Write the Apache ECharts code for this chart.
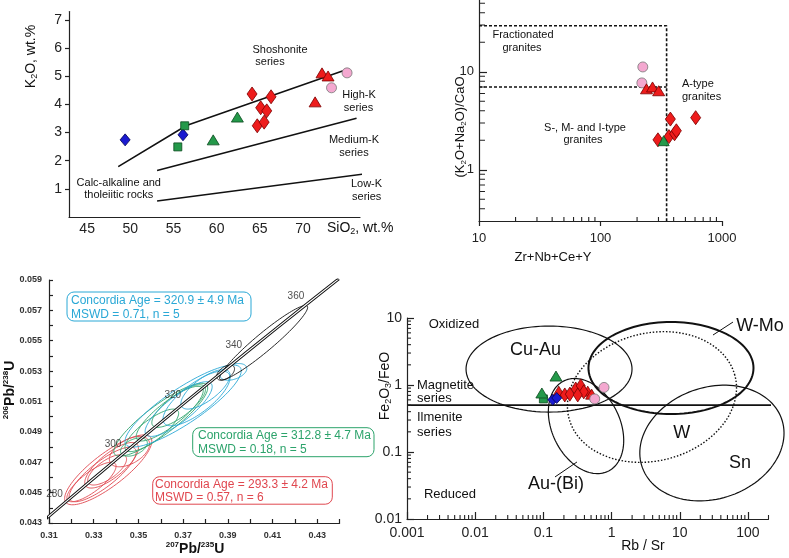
<!DOCTYPE html>
<html><head><meta charset="utf-8">
<script src="https://cdn.jsdelivr.net/npm/echarts@6/dist/echarts.min.js"></script>
<style>html,body{margin:0;padding:0;background:#fff}#c{width:789px;height:558px}</style>
</head><body><div id="c"></div>
<script>
// ===== Panel A: K2O vs SiO2 =====
const aBlueDiamond = [[49.4,2.74],[56.1,2.92]];
const aGreenSquare = [[56.3,3.24],[55.5,2.49]];
const aGreenTriangle = [[59.6,2.74],[62.4,3.55]];
const aRedDiamond = [[64.1,4.37],[65.1,3.88],[65.8,3.77],[66.3,4.27],[64.7,3.24],[65.5,3.37]];
const aRedTriangle = [[72.2,5.12],[72.9,5.01],[71.4,4.09]];
const aPinkCircle = [[75.1,5.12],[73.3,4.59]];
const aLineShoshonite = [[48.6,1.79],[56.5,3.25],[74.9,5.22]];
const aLineHighK = [[53.1,1.65],[76.2,3.51]];
const aLineLowK = [[53.1,0.57],[78.6,1.59]];
const aXTicks = [45,50,55,60,65,70];
const aYTicks = [1,2,3,4,5,6,7];

// ===== Panel B: (K2O+Na2O)/CaO vs Zr+Nb+Ce+Y =====
const bPinkCircle = [[223,11.2],[219,7.7]];
const bRedTriangle = [[239,6.7],[268,7.0],[301,6.4]];
const bRedDiamond = [[376,3.29],[607,3.4],[297,2.02],[366,2.18],[407,2.33],[421,2.5]];
const bGreenTriangle = [[331,1.98]];
const bFGBoxUpper = [[10,29.5],[350,29.5],[350,0.3]];
const bFGBoxLower = [[10,7],[350,7]];
const bXMajor = [10,100,1000];
const bXMinor = [20,30,40,50,60,70,80,90,200,300,400,500,600,700,800,900];
const bYMajor = [1,10];
const bYMinor = [0.4,0.5,0.6,0.7,0.8,0.9,2,3,4,5,6,7,8,9,20,30,40,50];

// ===== Panel C: Concordia =====
const cConcordia = [[0.304622,0.042773],[0.311057,0.043582],[0.317529,0.044392],[0.330569,0.046013],[0.343738,0.047637],[0.357037,0.049264],[0.370468,0.050893],[0.384031,0.052524],[0.397728,0.054158],[0.411563,0.055795],[0.425534,0.057434],[0.439641,0.059075]];
const cAgeLabels = [280,300,320,340,360];
const cAgePoints = [[0.317529,0.044392],[0.343738,0.047637],[0.370468,0.050893],[0.397728,0.054158],[0.425534,0.057434]];
// [x, y, half-width x, half-height y, correlation]
const cRedEllipses = [[0.3365,0.0465,0.0195,0.0023,0.82],[0.3340,0.0462,0.0150,0.0018,0.82],[0.3380,0.0468,0.0120,0.0015,0.76],[0.3360,0.0465,0.0087,0.0010,0.70],[0.3460,0.0477,0.0090,0.0010,0.50],[0.3290,0.0457,0.0110,0.0013,0.80]];
const cGreenEllipses = [[0.3600,0.0498,0.0210,0.0024,0.87],[0.3640,0.0502,0.0150,0.0018,0.84],[0.3680,0.0507,0.0120,0.0014,0.78],[0.3560,0.0491,0.0120,0.0014,0.80],[0.3480,0.0480,0.0060,0.0006,0.45]];
const cCyanEllipses = [[0.3700,0.0507,0.0260,0.0027,0.86],[0.3760,0.0512,0.0150,0.0018,0.76],[0.3680,0.0505,0.0150,0.0018,0.82],[0.3800,0.0518,0.0110,0.0013,0.72],[0.3925,0.05295,0.0060,0.00055,0.40]];
const cBlackEllipses = [[0.4060,0.05487,0.0197,0.00245,0.95],[0.3890,0.0529,0.0040,0.0005,0.5]];
const cXTicks = [0.31,0.32,0.33,0.34,0.35,0.36,0.37,0.38,0.39,0.40,0.41,0.42,0.43,0.44];
const cXLabels = [0.31,0.33,0.35,0.37,0.39,0.41,0.43];
const cYTicks = [0.043,0.044,0.045,0.046,0.047,0.048,0.049,0.050,0.051,0.052,0.053,0.054,0.055,0.056,0.057,0.058,0.059];
const cYLabels = [0.043,0.045,0.047,0.049,0.051,0.053,0.055,0.057,0.059];
const cBoxTexts = [['Concordia Age = 320.9 ± 4.9 Ma','MSWD = 0.71, n = 5'],['Concordia Age = 312.8 ± 4.7 Ma','MSWD = 0.18, n = 5'],['Concordia Age = 293.3 ± 4.2 Ma','MSWD = 0.57, n = 6']];

// ===== Panel D: Fe2O3/FeO vs Rb/Sr =====
const dGreenTriangle = [[0.153,1.36],[0.095,0.76]];
const dGreenSquare = [[0.1,0.62]];
const dBlueDiamond = [[0.137,0.60],[0.157,0.64]];
const dRedDiamond = [[0.206,0.71],[0.244,0.73],[0.298,0.87],[0.353,0.97],[0.391,0.79],[0.319,0.71]];
const dRedTriangle = [[0.447,0.81],[0.51,0.73],[0.168,0.81]];
const dPinkCircle = [[0.775,0.92],[0.566,0.62]];
const dBoundary = [[0.001,0.5],[420,0.5]];
const dFieldNames = ['Cu-Au','W-Mo','W','Sn','Au-(Bi)'];
const dFieldCenters = [[0.121,1.73],[7.43,1.79],[3.91,0.662],[29.6,0.136],[0.422,0.244]];
const dFieldAxes = [[1.217,0.642],[1.21,0.687],[1.258,0.952],[1.084,0.83],[0.748,0.50]]; // semi-axes, decades
const dFieldAngles = [0,0,15,20,115];
const dLeaderWMo = [[30.7,5.57],[60.3,8.7]];
const dLeaderAuBi = [[0.148,0.0424],[0.311,0.071]];
const dXMajor = [0.001,0.01,0.1,1,10,100];
const dXMinor = [0.002,0.003,0.004,0.005,0.006,0.007,0.008,0.009,0.02,0.03,0.04,0.05,0.06,0.07,0.08,0.09,0.2,0.3,0.4,0.5,0.6,0.7,0.8,0.9,2,3,4,5,6,7,8,9,20,30,40,50,60,70,80,90,200];
const dYMajor = [0.01,0.1,1,10];
const dYMinor = [0.02,0.03,0.04,0.05,0.06,0.07,0.08,0.09,0.2,0.3,0.4,0.5,0.6,0.7,0.8,0.9,2,3,4,5,6,7,8,9];

// ===== styling =====
const FONT = '"Liberation Sans", Arial, Helvetica, sans-serif';
const AX = {color:'#222', width:1.2};
const RED = '#ee1c1c', GREEN = '#24994a', BLUE = '#1a1ad0', PINK = '#f4a8d0';
const E_RED = '#e0474f', E_GREEN = '#2ca36b', E_CYAN = '#2aa8d6';

function scatter(data, xi, yi, symbol, size, color, border) {
  return {type:'scatter', xAxisIndex:xi, yAxisIndex:yi, data:data, symbol:symbol, symbolSize:size,
    itemStyle:{color:color, borderColor:border, borderWidth:0.8, opacity:1}, silent:true, z:5};
}
function line(data, xi, yi, width, type, color) {
  return {type:'line', xAxisIndex:xi, yAxisIndex:yi, data:data, symbol:'none', clip:false, silent:true,
    lineStyle:{color:color||'#111', width:width, type:type||'solid'}, z:3};
}
// minor ticks: one short line series per tick, end point one tick-length further along the log scale
function tickSeries(xi, yi, values, dir, anchor, factor) {
  return values.map(v => ({type:'line', xAxisIndex:xi, yAxisIndex:yi, symbol:'none', clip:false, silent:true, z:6,
    data: dir === 'x' ? [[v, anchor],[v, anchor*factor]] : [[anchor, v],[anchor*factor, v]],
    lineStyle:{color:'#222', width:1.1}}));
}
function errEllipseSeries(data, color) {
  return {type:'custom', xAxisIndex:2, yAxisIndex:2, data:data, silent:true, clip:true,
    dimensions:['x','y','sx','sy','r'], encode:{x:0,y:1}, z:2,
    renderItem:function(params, api){
      const cx=api.value(0), cy=api.value(1), sx=api.value(2), sy=api.value(3), r=api.value(4);
      const k=Math.sqrt(1-r*r); const pts=[];
      for(let i=0;i<=100;i++){const t=i/100*2*Math.PI;
        pts.push(api.coord([cx+sx*Math.cos(t), cy+sy*(r*Math.cos(t)+k*Math.sin(t))]));}
      return {type:'polyline', shape:{points:pts}, style:{stroke:color, fill:'none', lineWidth:0.9}};
    }};
}
const dFieldStyles = [{w:1.2,d:null},{w:2,d:null},{w:1.4,d:[1.5,1.8]},{w:1.2,d:null},{w:1.2,d:null}];
const dFieldData = dFieldCenters.map((c,i)=>[c[0],c[1],dFieldAxes[i][0],dFieldAxes[i][1],dFieldAngles[i]]);

function axisCommon(gi, pos){ return {gridIndex:gi, position:pos, splitLine:{show:false}, axisLine:{show:true, onZero:false, lineStyle:AX}}; }

const grids = [
  {left:69, top:11.5, width:291, height:205.5},
  {left:479, top:0, width:243, height:221},
  {left:49, top:280, width:290.6, height:243},
  {left:407, top:318, width:361.5, height:201}
];

const xAxes = [
  Object.assign(axisCommon(0,'bottom'), {type:'value', min:42.9, max:76.6, axisTick:{show:false},
    axisLabel:{customValues:aXTicks, fontSize:14, margin:5, color:'#222'}}),
  Object.assign(axisCommon(1,'bottom'), {type:'log', logBase:10, min:10, max:1000,
    axisTick:{customValues:bXMajor, length:5, inside:false, lineStyle:AX},
    axisLabel:{customValues:bXMajor, fontSize:13, margin:11, color:'#222', formatter:v=>String(v)}}),
  Object.assign(axisCommon(2,'bottom'), {type:'value', min:0.31, max:0.44,
    axisTick:{customValues:cXTicks, length:4, inside:true, lineStyle:AX},
    axisLabel:{customValues:cXLabels, fontSize:9, fontWeight:'bold', margin:8, color:'#333', formatter:v=>v.toFixed(2)}}),
  Object.assign(axisCommon(3,'bottom'), {type:'log', logBase:10, min:0.001, max:200,
    axisTick:{customValues:dXMajor, length:7, inside:true, lineStyle:AX},
    axisLabel:{customValues:dXMajor, fontSize:14, margin:7, color:'#222', formatter:v=>String(v)}})
];
const yAxes = [
  Object.assign(axisCommon(0,'left'), {type:'value', min:0, max:7.3,
    axisTick:{customValues:aYTicks, length:4, inside:false, lineStyle:AX},
    axisLabel:{customValues:aYTicks, fontSize:14, margin:7, color:'#222'}}),
  Object.assign(axisCommon(1,'left'), {type:'log', logBase:10, min:0.3, max:54,
    axisTick:{customValues:bYMajor, length:8, inside:true, lineStyle:AX},
    axisLabel:{customValues:bYMajor, fontSize:13, margin:5, color:'#222', formatter:v=>String(v)}}),
  Object.assign(axisCommon(2,'left'), {type:'value', min:0.043, max:0.059,
    axisTick:{customValues:cYTicks, length:4, inside:true, lineStyle:AX},
    axisLabel:{customValues:cYLabels, fontSize:9, fontWeight:'bold', margin:7, color:'#333', formatter:v=>v.toFixed(3)}}),
  Object.assign(axisCommon(3,'left'), {type:'log', logBase:10, min:0.01, max:10,
    axisTick:{customValues:dYMajor, length:7, inside:true, lineStyle:AX},
    axisLabel:{customValues:dYMajor, fontSize:14, margin:5, color:'#222', formatter:v=>String(v)}})
];

const series = [
  // A
  line(aLineShoshonite,0,0,1.6), line(aLineHighK,0,0,1.6), line(aLineLowK,0,0,1.6),
  scatter(aBlueDiamond,0,0,'diamond',[10,12],BLUE,'#000050'),
  scatter(aGreenSquare,0,0,'rect',8,GREEN,'#0b4a1e'),
  scatter(aGreenTriangle,0,0,'triangle',[12,10],GREEN,'#0b4a1e'),
  scatter(aRedDiamond,0,0,'diamond',[10,14],RED,'#7a0000'),
  scatter(aRedTriangle,0,0,'triangle',[12,10],RED,'#7a0000'),
  scatter(aPinkCircle,0,0,'circle',10,PINK,'#777'),
  // B
  line(bFGBoxUpper,1,1,1.6,[3,2]), line(bFGBoxLower,1,1,1.6,[3,2]),
  scatter(bPinkCircle,1,1,'circle',10,PINK,'#777'),
  scatter(bRedTriangle,1,1,'triangle',[12,10],RED,'#7a0000'),
  scatter(bRedDiamond,1,1,'diamond',[10,14],RED,'#7a0000'),
  scatter(bGreenTriangle,1,1,'triangle',[11,10],GREEN,'#0b4a1e'),
  // C
  errEllipseSeries(cRedEllipses,E_RED), errEllipseSeries(cGreenEllipses,E_GREEN),
  errEllipseSeries(cCyanEllipses,E_CYAN), errEllipseSeries(cBlackEllipses,'#111'),
  {type:'line', xAxisIndex:2, yAxisIndex:2, data:cConcordia, symbol:'none', clip:true, silent:true, z:4,
    lineStyle:{color:'#111', width:3}},
  {type:'line', xAxisIndex:2, yAxisIndex:2, data:cConcordia, symbol:'none', clip:true, silent:true, z:4,
    lineStyle:{color:'#fff', width:1.1}},
  {type:'scatter', xAxisIndex:2, yAxisIndex:2, data:cAgePoints, symbolSize:0, silent:true, z:6,
    label:{show:true, position:'left', distance:3, offset:[0,-8], fontSize:10, color:'#222',
      formatter:p=>String(cAgeLabels[p.dataIndex])}},
  // D
  {type:'custom', xAxisIndex:3, yAxisIndex:3, data:dFieldData, silent:true, clip:false,
    dimensions:['x','y','a','b','ang'], encode:{x:0,y:1}, z:2,
    renderItem:function(params, api){
      const cx=api.value(0), cy=api.value(1), a=api.value(2), b=api.value(3), ang=api.value(4)*Math.PI/180;
      const pts=[];
      for(let i=0;i<=120;i++){const t=i/120*2*Math.PI; const u=a*Math.cos(t), v=b*Math.sin(t);
        const dx=u*Math.cos(ang)-v*Math.sin(ang), dy=u*Math.sin(ang)+v*Math.cos(ang);
        pts.push(api.coord([cx*Math.pow(10,dx), cy*Math.pow(10,dy)]));}
      const st=dFieldStyles[params.dataIndex];
      return {type:'polyline', shape:{points:pts}, style:{stroke:'#111', fill:'none', lineWidth:st.w, lineDash:st.d}};
    }},
  line(dBoundary,3,3,1.6), line(dLeaderWMo,3,3,1), line(dLeaderAuBi,3,3,1),
  scatter(dGreenSquare,3,3,'rect',8,GREEN,'#0b4a1e'),
  scatter(dGreenTriangle,3,3,'triangle',[12,10],GREEN,'#0b4a1e'),
  scatter(dRedTriangle,3,3,'triangle',[12,10],RED,'#7a0000'),
  scatter(dRedDiamond,3,3,'diamond',[9,14],RED,'#7a0000'),
  scatter(dBlueDiamond,3,3,'diamond',[10,11],BLUE,'#000050'),
  scatter(dPinkCircle,3,3,'circle',10,PINK,'#777')
].concat(
  tickSeries(1,1,bXMinor,'x',0.3,1.099),
  tickSeries(1,1,bYMinor,'y',10,1.12),
  tickSeries(3,3,dXMinor,'x',0.01,1.147),
  tickSeries(3,3,dYMinor,'y',0.001,1.144)
);

function T(x,y,text,size,extra){
  return Object.assign({type:'text', x:x, y:y, silent:true, z:10,
    style:Object.assign({text:text, fontSize:size, fontFamily:FONT, fill:'#111', align:'center', verticalAlign:'middle'}, (extra&&extra.style)||{})},
    extra&&extra.rot!==undefined?{rotation:extra.rot}:{});
}
const subRich = (sz)=>({s:{fontSize:sz, verticalAlign:'bottom', fontFamily:FONT, fill:'#111'}});
const graphic = [
  // A texts
  T(280,50,'Shoshonite',11), T(270,62,'series',11),
  T(359,95,'High-K',11), T(358.5,107.5,'series',11),
  T(354,139.5,'Medium-K',11), T(354,152.5,'series',11),
  T(366.5,184,'Low-K',11), T(366.7,197,'series',11),
  T(118.8,183.3,'Calc-alkaline and',11), T(118.8,195,'tholeiitic rocks',11),
  T(31.5,56.5,'K{s|2}O, wt.%',14,{rot:Math.PI/2, style:{rich:subRich(9), lineHeight:16}}),
  T(327,228,'SiO{s|2}, wt.%',14,{style:{align:'left', rich:subRich(9), lineHeight:16}}),
  // B texts
  T(523,35,'Fractionated',11), T(522,48,'granites',11),
  T(682,84,'A-type',11,{style:{align:'left'}}), T(682,97,'granites',11,{style:{align:'left'}}),
  T(585,128,'S-, M- and I-type',11), T(583,140,'granites',11),
  T(460,127,'(K{s|2}O+Na{s|2}O)/CaO',13,{rot:Math.PI/2, style:{rich:subRich(8), lineHeight:15}}),
  T(553,257,'Zr+Nb+Ce+Y',13),
  // C texts
  T(10,390,'{p|206}Pb/{p|238}U',14,{rot:Math.PI/2, style:{fontWeight:'bold', lineHeight:16,
     rich:{p:{fontSize:8, fontWeight:'bold', verticalAlign:'top', fontFamily:FONT, fill:'#111'}}}}),
  T(195,549,'{p|207}Pb/{p|235}U',14,{style:{fontWeight:'bold', lineHeight:16,
     rich:{p:{fontSize:8, fontWeight:'bold', verticalAlign:'top', fontFamily:FONT, fill:'#111'}}}}),
  {type:'rect', shape:{x:67,y:292,width:184,height:29,r:7}, style:{fill:'none', stroke:E_CYAN, lineWidth:1}, silent:true, z:10},
  T(71,300.5,cBoxTexts[0][0],12,{style:{align:'left', fill:E_CYAN}}), T(71,314.5,cBoxTexts[0][1],12,{style:{align:'left', fill:E_CYAN}}),
  {type:'rect', shape:{x:192.7,y:427.7,width:181.3,height:29,r:7}, style:{fill:'none', stroke:E_GREEN, lineWidth:1}, silent:true, z:10},
  T(198,436,cBoxTexts[1][0],12,{style:{align:'left', fill:E_GREEN}}), T(198,449.5,cBoxTexts[1][1],12,{style:{align:'left', fill:E_GREEN}}),
  {type:'rect', shape:{x:152.7,y:476.7,width:179.6,height:27.5,r:7}, style:{fill:'none', stroke:E_RED, lineWidth:1}, silent:true, z:10},
  T(155,484.5,cBoxTexts[2][0],12,{style:{align:'left', fill:E_RED}}), T(155,498,cBoxTexts[2][1],12,{style:{align:'left', fill:E_RED}}),
  // D texts
  T(454,324,'Oxidized',13),
  T(417,385,'Magnetite',13,{style:{align:'left'}}), T(417,398.5,'series',13,{style:{align:'left'}}),
  T(417,417.5,'Ilmenite',13,{style:{align:'left'}}), T(417,432.5,'series',13,{style:{align:'left'}}),
  T(450,494,'Reduced',13),
  T(535.5,350,dFieldNames[0],18), T(760,326,dFieldNames[1],18), T(681.7,433.5,dFieldNames[2],18),
  T(740,463.5,dFieldNames[3],18), T(556,484,dFieldNames[4],18),
  T(385,386,'Fe{s|2}O{s|3}/FeO',14,{rot:Math.PI/2, style:{rich:subRich(9), lineHeight:16}}),
  T(643,546,'Rb / Sr',14)
];

const chart = echarts.init(document.getElementById('c'), null, {renderer:'canvas'});
chart.setOption({
  animation:false, backgroundColor:'#fff',
  textStyle:{fontFamily:FONT},
  grid:grids, xAxis:xAxes, yAxis:yAxes, series:series, graphic:graphic
});
</script></body></html>
